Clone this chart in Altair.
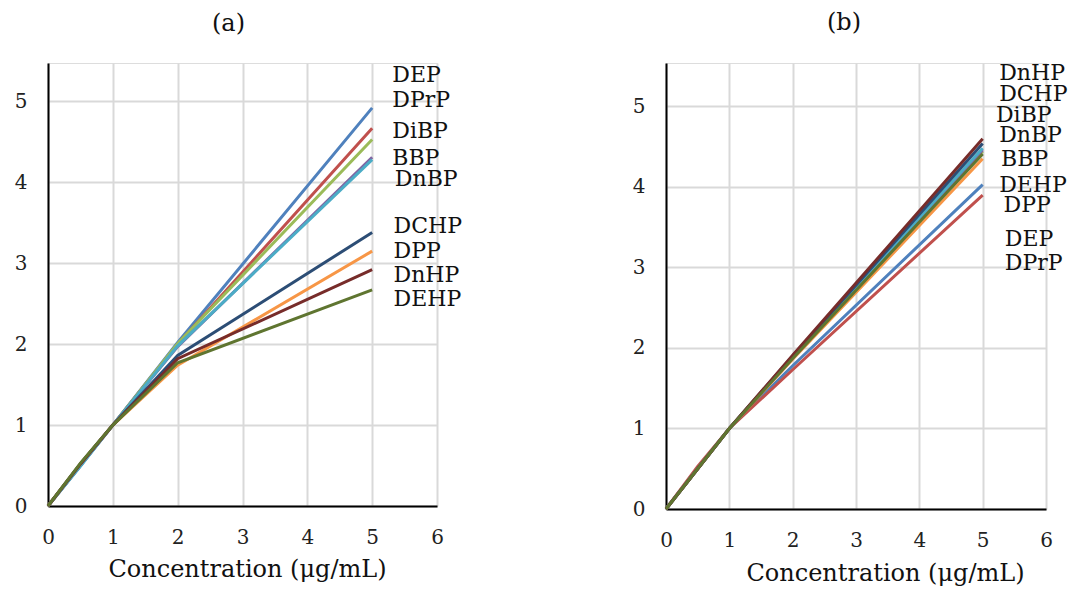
import altair as alt
import pandas as pd

# ---- data ----
series = ["DEP", "DPrP", "DiBP", "BBP", "DnBP", "DPP", "DCHP", "DnHP", "DEHP"]
colors = ["#4F81BD", "#C0504D", "#9BBB59", "#8064A2", "#4BACC6",
          "#F79646", "#2C4D75", "#772C2A", "#5F7530"]
conc = [0, 0.5, 1, 2, 5]

vals_a = {
    "DEP":  [0, 0.50, 1, 2.02, 4.92],
    "DPrP": [0, 0.50, 1, 2.00, 4.67],
    "DiBP": [0, 0.51, 1, 2.01, 4.53],
    "BBP":  [0, 0.50, 1, 1.97, 4.31],
    "DnBP": [0, 0.49, 1, 1.98, 4.28],
    "DPP":  [0, 0.52, 1, 1.74, 3.15],
    "DCHP": [0, 0.52, 1, 1.86, 3.38],
    "DnHP": [0, 0.52, 1, 1.82, 2.92],
    "DEHP": [0, 0.53, 1, 1.77, 2.67],
}
vals_b = {
    "DEP":  [0, 0.50, 1, 1.78, 4.03],
    "DPrP": [0, 0.53, 1, 1.73, 3.90],
    "DiBP": [0, 0.50, 1, 1.88, 4.44],
    "BBP":  [0, 0.50, 1, 1.88, 4.46],
    "DnBP": [0, 0.50, 1, 1.89, 4.48],
    "DPP":  [0, 0.50, 1, 1.86, 4.35],
    "DCHP": [0, 0.50, 1, 1.90, 4.54],
    "DnHP": [0, 0.50, 1, 1.91, 4.60],
    "DEHP": [0, 0.50, 1, 1.87, 4.41],
}

# end-label text (order as printed) and their placement
labels_a = ["DEP", "DPrP", "DiBP", "BBP", "DnBP", "DCHP", "DPP", "DnHP", "DEHP"]
label_y_a = [5.33, 5.02, 4.63, 4.30, 4.04, 3.46, 3.15, 2.86, 2.56]
label_x_a = [5.31, 5.31, 5.31, 5.31, 5.35, 5.33, 5.33, 5.33, 5.33]

labels_b = ["DnHP", "DCHP", "DiBP", "DnBP", "BBP", "DEHP", "DPP", "DEP", "DPrP"]
label_y_b = [5.41, 5.16, 4.89, 4.64, 4.35, 4.02, 3.77, 3.36, 3.06]
label_x_b = [5.26, 5.26, 5.21, 5.26, 5.29, 5.26, 5.33, 5.35, 5.35]

FONT = "DejaVu Serif"


def long_df(vals):
    rows = []
    for i, s in enumerate(series):
        for x, y in zip(conc, vals[s]):
            rows.append({"series": s, "order": i, "x": x, "y": y})
    return pd.DataFrame(rows)


def panel(vals, labels, lx, ly, title, width, height, ymax, title_dx, axis_title_x, axis_title_y):
    df = long_df(vals)
    lab = pd.DataFrame({"label": labels, "x": lx, "y": ly})
    xs = alt.Scale(domain=[0, 6], nice=False, zero=True)
    ys = alt.Scale(domain=[0, ymax], nice=False, zero=True)
    xaxis = alt.Axis(values=[0, 1, 2, 3, 4, 5, 6], format="d", ticks=False,
                     grid=True, gridColor="#D9D9D9", gridWidth=2,
                     domainColor="#000000", domainWidth=2,
                     labelFont=FONT, labelFontSize=20, labelColor="#222222",
                     labelPadding=21, labelFlush=False,
                     title="Concentration (μg/mL)", titleFont=FONT,
                     titleFontSize=24, titleFontWeight="normal", titleColor="#111111",
                     titleX=axis_title_x, titleY=axis_title_y,
                     titleBaseline="middle", titleAlign="center")
    yaxis = alt.Axis(values=[0, 1, 2, 3, 4, 5], format="d", ticks=False,
                     grid=True, gridColor="#D9D9D9", gridWidth=2,
                     domainColor="#000000", domainWidth=2,
                     labelFont=FONT, labelFontSize=20, labelColor="#222222",
                     labelPadding=21, labelFlush=False, title=None)
    lines = alt.Chart(df).mark_line(strokeWidth=3).encode(
        x=alt.X("x:Q", scale=xs, axis=xaxis),
        y=alt.Y("y:Q", scale=ys, axis=yaxis),
        color=alt.Color("series:N", scale=alt.Scale(domain=series, range=colors), legend=None),
        order=alt.Order("order:Q"),
        detail="series:N",
    )
    text = alt.Chart(lab).mark_text(align="left", baseline="middle", font=FONT,
                                    fontSize=22, color="#111111").encode(
        x=alt.X("x:Q", scale=xs),
        y=alt.Y("y:Q", scale=ys),
        text="label:N",
    )
    return alt.layer(lines, text).properties(
        width=width, height=height,
        title=alt.TitleParams(title, font=FONT, fontSize=24, fontWeight="normal",
                              color="#111111", frame="group", anchor="middle",
                              dx=title_dx, offset=27),
    )


a = panel(vals_a, labels_a, label_x_a, label_y_a, "(a)", 389, 443, 5.475, -14, 199, 63)
b = panel(vals_b, labels_b, label_x_b, label_y_b, "(b)", 380, 446, 5.54, -12, 219, 64)

chart = alt.hconcat(a, b, spacing=229, bounds="flush").properties(
    padding={"left": 13, "top": 10, "right": 0, "bottom": 0}
).configure_view(stroke=None).configure(background="white")

chart.save("out.html", embed_options={"renderer": "svg", "actions": False})
